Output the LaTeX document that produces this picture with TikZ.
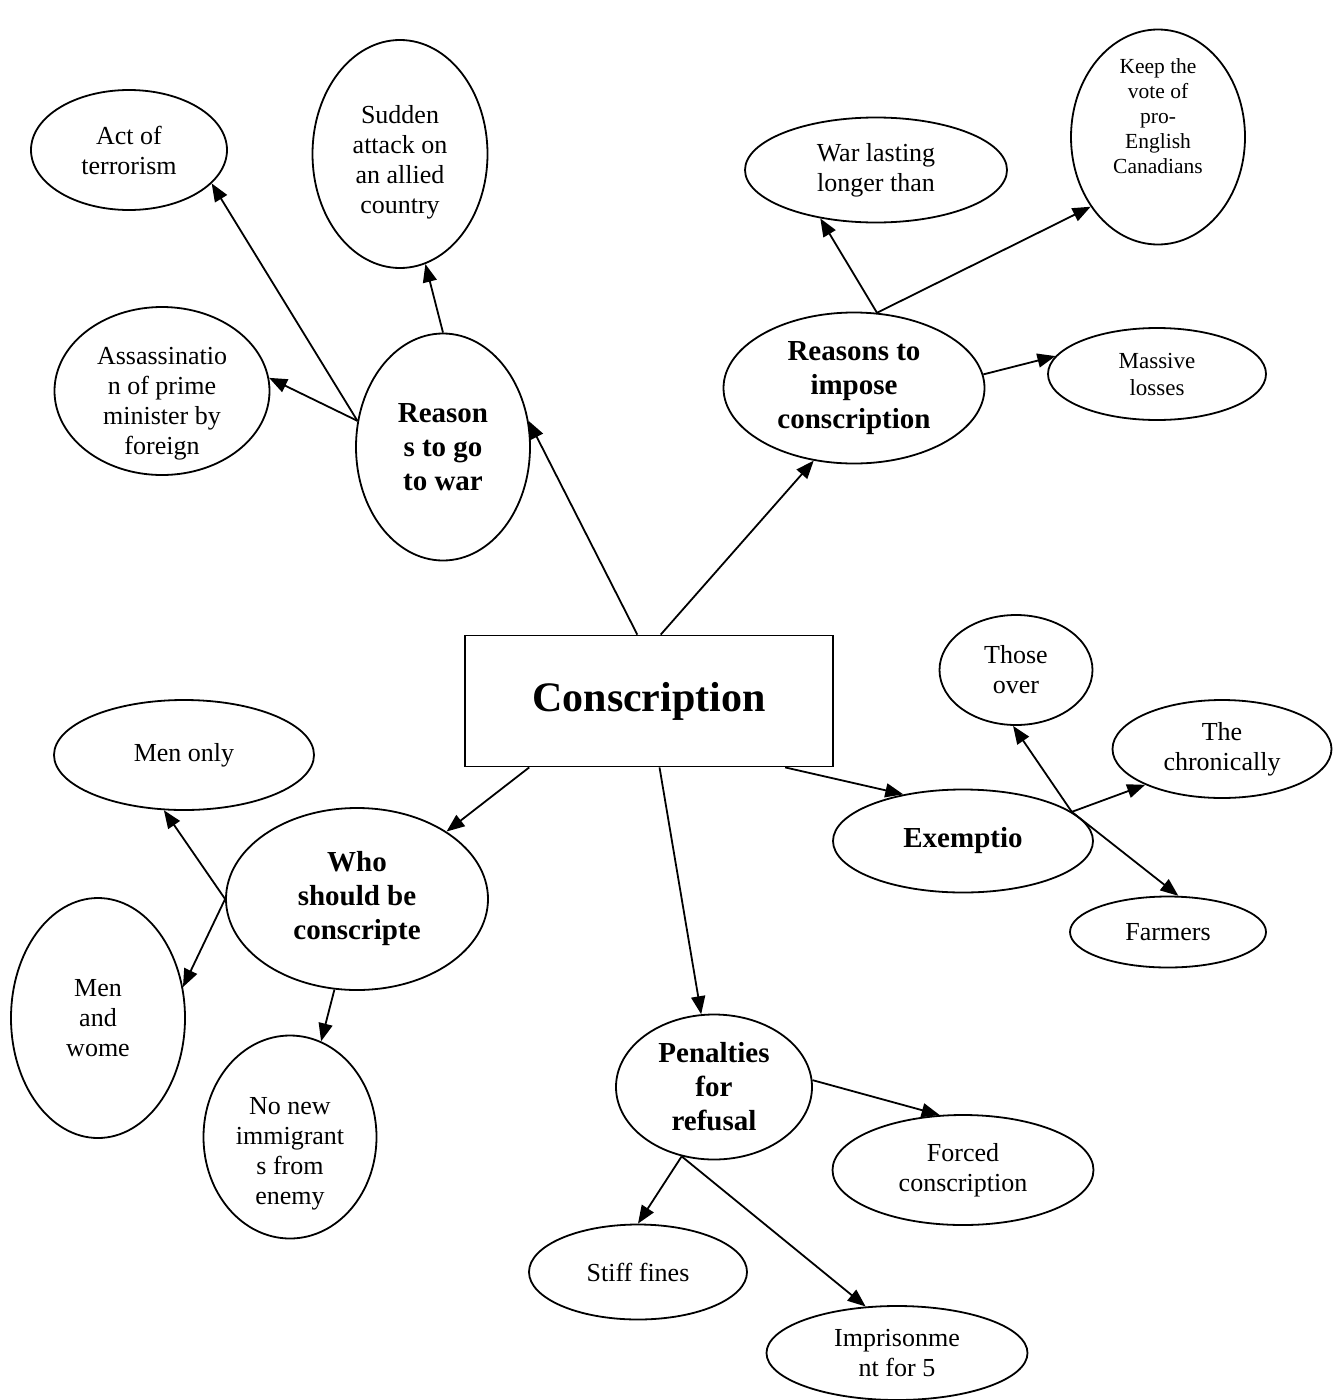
\documentclass[tikz,border=0pt]{standalone}
\usepackage{fontspec}
\setmainfont{Liberation Serif}
\usetikzlibrary{shapes.geometric, arrows.meta}

\begin{document}
\begin{tikzpicture}[
    x=1pt, y=-1pt,
    % --- STYLES ---
    plain/.style={align=center, font=\fontsize{26}{30}\selectfont},
    plainsmall/.style={align=center, font=\fontsize{21.5}{25}\selectfont},
    bubble/.style={draw, ellipse, line width=1.8pt, inner sep=0pt, plain},
    topic/.style={bubble, font=\fontsize{29}{34}\selectfont\bfseries},
    small/.style={bubble, plainsmall},
    core/.style={draw, rectangle, line width=1.8pt, minimum width=368pt, minimum height=131pt, font=\fontsize{42}{50}\selectfont\bfseries},
    arrow/.style={-{Triangle[length=18pt, width=14pt]}, line width=1.8pt}
]
    \useasboundingbox (0,0) rectangle (1336,1400);

    % ==========================================
    % CENTRE
    % ==========================================
    \node[core] (conscription) at (649,701) {Conscription};

    % ==========================================
    % REASONS TO GO TO WAR
    % ==========================================
    \node[topic, minimum width=174pt, minimum height=227pt] (gowar) at (443,447) {Reason\\s to go\\to war};
    \node[bubble, minimum width=196pt, minimum height=120pt] (terror) at (129,150) {Act of\\terrorism};
    \node[bubble, minimum width=175pt, minimum height=228pt,
          label={[plain, yshift=-8pt]center:Sudden\\attack on\\an allied\\country}] (attack) at (400,154) {};
    \node[bubble, minimum width=215pt, minimum height=168pt,
          label={[plain, yshift=-13pt]center:Assassinatio\\n of prime\\minister by\\foreign}] (assassin) at (162,391) {};

    \draw[arrow] (gowar.90) -- (attack.283);
    \draw[arrow] (gowar.163) -- (terror.338);
    \draw[arrow] (gowar.163) -- (assassin.7);

    % ==========================================
    % REASONS TO IMPOSE CONSCRIPTION
    % ==========================================
    \node[topic, minimum width=261pt, minimum height=151pt] (impose) at (854,388) {Reasons to\\impose\\conscription};
    \node[bubble, minimum width=262pt, minimum height=105pt] (lasting) at (876,170) {War lasting\\longer than};
    \node[small, minimum width=174pt, minimum height=215pt,
          label={[plainsmall, yshift=21pt]center:Keep the\\vote of\\pro-\\English\\Canadians}] (vote) at (1158,137) {};
    \node[small, minimum width=218pt, minimum height=92pt, font=\fontsize{23}{27}\selectfont] (losses) at (1157,374) {Massive\\losses};

    \draw[arrow] (impose.73) -- (lasting.221);
    \draw[arrow] (impose.73) -- (vote.226);
    \draw[arrow] (impose.6) -- (losses.170);

    % ==========================================
    % EXEMPTIONS
    % ==========================================
    \node[topic, minimum width=260pt, minimum height=103pt] (exempt) at (963,841) {Exemptio};
    \node[bubble, minimum width=153pt, minimum height=110pt] (over) at (1016,670) {Those\\over};
    \node[bubble, minimum width=219pt, minimum height=98pt] (ill) at (1222,749) {The\\chronically};
    \node[bubble, minimum width=196pt, minimum height=71pt] (farmers) at (1168,932) {Farmers};

    \draw[arrow] (exempt.15) -- (over.267);
    \draw[arrow] (exempt.15) -- (ill.205);
    \draw[arrow] (exempt.15) -- (farmers.74);

    % ==========================================
    % WHO SHOULD BE CONSCRIPTED
    % ==========================================
    \node[topic, minimum width=262pt, minimum height=182pt] (who) at (357,899) {Who\\should be\\conscripte};
    \node[bubble, minimum width=260pt, minimum height=110pt] (menonly) at (184,755) {Men only};
    \node[bubble, minimum width=174pt, minimum height=240pt] (menwomen) at (98,1018) {Men\\and\\wome};
    \node[bubble, minimum width=173pt, minimum height=203pt,
          label={[plain, yshift=-17pt]center:No new\\immigrant\\s from\\enemy}] (immigrants) at (290,1137) {};

    \draw[arrow] (who.180) -- (menonly.250);
    \draw[arrow] (who.180) -- (menwomen.20);
    \draw[arrow] (who.256) -- (immigrants.72);

    % ==========================================
    % PENALTIES FOR REFUSAL
    % ==========================================
    \node[topic, minimum width=196pt, minimum height=145pt] (penalty) at (714,1087) {Penalties\\for\\refusal};
    \node[bubble, minimum width=261pt, minimum height=110pt] (forced) at (963,1170) {Forced\\conscription};
    \node[bubble, minimum width=218pt, minimum height=95pt] (fines) at (638,1272) {Stiff fines};
    \node[bubble, minimum width=261pt, minimum height=94pt] (prison) at (897,1353) {Imprisonme\\nt for 5};

    \draw[arrow] (penalty.4) -- (forced.113);
    \draw[arrow] (penalty.245) -- (fines.90);
    \draw[arrow] (penalty.245) -- (prison.124);

    % ==========================================
    % SPOKES FROM THE CENTRE
    % ==========================================
    \draw[arrow] (conscription.100.5) -- (gowar.17);
    \draw[arrow] (conscription.80.4) -- (impose.241);
    \draw[arrow] (conscription.209) -- (who.37);
    \draw[arrow] (conscription.279.5) -- (penalty.100);
    \draw[arrow] (conscription.334.4) -- (exempt.142);

\end{tikzpicture}
\end{document}
